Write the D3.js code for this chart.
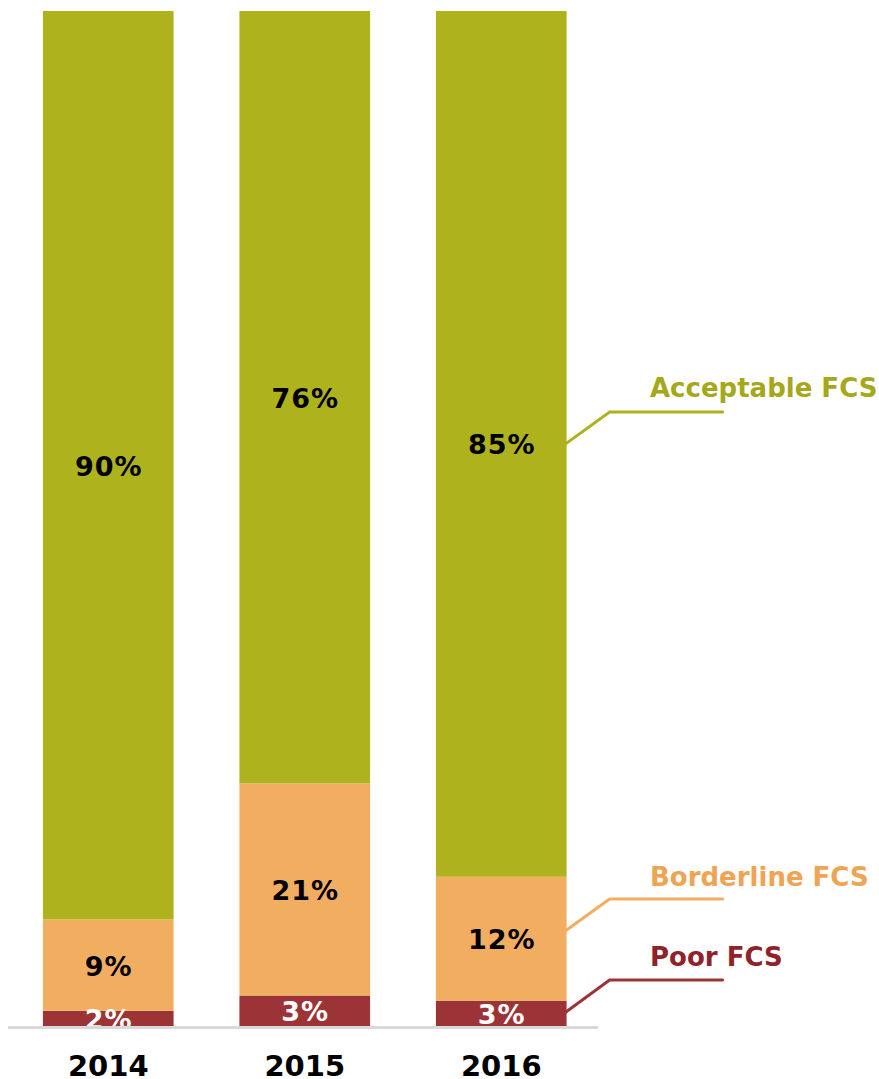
<!DOCTYPE html>
<html>
<head>
<meta charset="utf-8">
<script src="https://cdn.jsdelivr.net/npm/d3@7"></script>
<style>
  html, body { margin: 0; padding: 0; background: #fff; }
  svg { display: block; }
  text { font-family: "DejaVu Sans", Verdana, sans-serif; font-weight: bold; }
</style>
</head>
<body>
<svg id="chart" width="879" height="1079"></svg>
<script>
// ---- data ----
const years = ["2014", "2015", "2016"];
const seriesNames = ["Poor FCS", "Borderline FCS", "Acceptable FCS"];
const poor       = [1.5, 3.0, 2.5];
const borderline = [9.0, 20.9, 12.2];
const acceptable = [89.5, 76.1, 85.3];
const labelPoor       = ["2%", "3%", "3%"];
const labelBorderline = ["9%", "21%", "12%"];
const labelAcceptable = ["90%", "76%", "85%"];

// ---- styles ----
const barColors   = ["#9C3437", "#F2AE60", "#AEB31D"];
const legendColor = ["#8E2429", "#EFA454", "#A5A81B"];
const valueColor  = ["#FFFFFF", "#000000", "#000000"];

const rows = years.map((y, i) => ({
  year: y,
  "Poor FCS": poor[i],
  "Borderline FCS": borderline[i],
  "Acceptable FCS": acceptable[i]
}));
const labels = [labelPoor, labelBorderline, labelAcceptable];

const svg = d3.select("#chart");
const x = d3.scaleBand().domain(years).range([10, 599.5]).paddingInner(0.335).paddingOuter(0.1675);
const y = d3.scaleLinear().domain([0, 100]).range([1026, 11]);

const stack = d3.stack().keys(seriesNames);
const layers = stack(rows);

const g = svg.append("g");
layers.forEach((layer, si) => {
  g.selectAll(null).data(layer).enter().append("rect")
    .attr("x", d => x(d.data.year))
    .attr("width", x.bandwidth())
    .attr("y", d => y(d[1]))
    .attr("height", d => y(d[0]) - y(d[1]))
    .attr("fill", barColors[si]);
});

// baseline
svg.append("line")
  .attr("x1", 8).attr("x2", 598)
  .attr("y1", y(0) + 1.5).attr("y2", y(0) + 1.5)
  .attr("stroke", "#D9D9D9").attr("stroke-width", 3);

// value labels
layers.forEach((layer, si) => {
  g.selectAll(null).data(layer).enter().append("text")
    .attr("x", d => x(d.data.year) + x.bandwidth() / 2 + 0.5)
    .attr("y", d => (y(d[0]) + y(d[1])) / 2 + 1)
    .attr("text-anchor", "middle")
    .attr("dominant-baseline", "central")
    .attr("font-size", 27)
    .attr("letter-spacing", 1)
    .attr("fill", valueColor[si])
    .text((d, i) => labels[si][i]);
});

// x axis labels
const xAxis = d3.axisBottom(x).tickSize(0).tickPadding(0);
const ax = svg.append("g").attr("transform", `translate(0, ${y(0)})`).call(xAxis);
ax.select(".domain").remove();
ax.selectAll("text")
  .attr("font-size", 29)
  .attr("fill", "#000")
  .attr("dy", null)
  .attr("y", 50)
  .style("font-family", '"DejaVu Sans", Verdana, sans-serif')
  .style("font-weight", "bold");

// legend with leader lines (from the last bar)
const last = layers.map(l => l[l.length - 1]);
const legendElbowY = [980, 899, 412];
const legendTextY  = [966, 886, 397];
const startOffset  = [-1, -8, 0];
const barRight = x(years[years.length - 1]) + x.bandwidth();
seriesNames.forEach((name, si) => {
  const d = last[si];
  const sy = (y(d[0]) + y(d[1])) / 2 + startOffset[si];
  svg.append("polyline")
    .attr("points", `${barRight - 1},${sy} ${barRight + 43},${legendElbowY[si]} ${barRight + 156},${legendElbowY[si]}`)
    .attr("fill", "none")
    .attr("stroke", barColors[si])
    .attr("stroke-width", 3)
    .attr("stroke-linecap", "round");
  svg.append("text")
    .attr("x", 650)
    .attr("y", legendTextY[si])
    .attr("font-size", 26)
    .attr("fill", legendColor[si])
    .text(name);
});
</script>
</body>
</html>
